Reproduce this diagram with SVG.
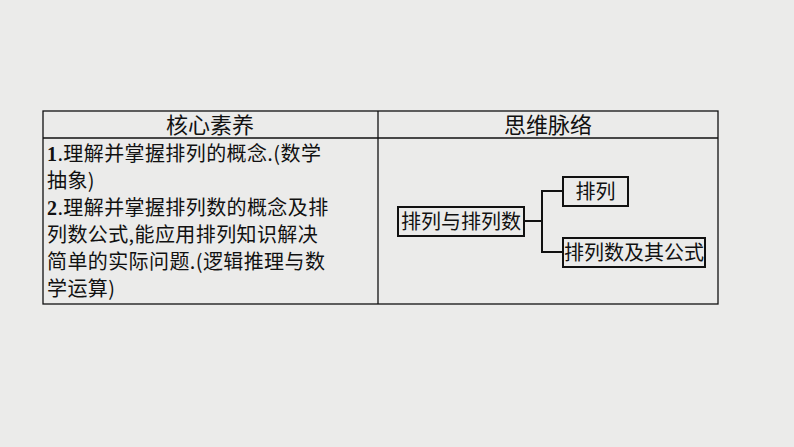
<svg xmlns="http://www.w3.org/2000/svg" width="794" height="447" viewBox="0 0 794 447">
<style>
text{font-family:"Noto Sans CJK SC","Liberation Serif",serif;fill:#111}
.t{font-size:20px;letter-spacing:0.4px}
.h{font-size:22px;text-anchor:middle}
.n{font-size:20px;text-anchor:middle}
.b{fill:none;stroke:#111;stroke-width:2}
.l{fill:none;stroke:#111;stroke-width:1.3}
</style>
<rect width="794" height="447" fill="#ebebea"/>
<g id="table">
<rect x="43" y="111" width="675" height="193" class="l"/>
<line x1="43" y1="138" x2="718" y2="138" class="l"/>
<line x1="378" y1="111" x2="378" y2="304" class="l"/>
<text class="h" x="210" y="133">核心素养</text>
<text class="h" x="548" y="133">思维脉络</text>
<g class="t">
<text x="47" y="161"><tspan font-weight="bold" font-family="Liberation Serif">1</tspan>.理解并掌握排列的概念.(数学</text>
<text x="47" y="188">抽象)</text>
<text x="47" y="215"><tspan font-weight="bold" font-family="Liberation Serif">2</tspan>.理解并掌握排列数的概念及排</text>
<text x="47" y="242">列数公式,能应用排列知识解决</text>
<text x="47" y="269">简单的实际问题.(逻辑推理与数</text>
<text x="47" y="296">学运算)</text>
</g>
</g>
<g id="connectors">
<polyline points="524,221 542,221" class="b"/>
<polyline points="563,191 542,191 542,252 563,252" class="b"/>
</g>
<g id="n1"><rect x="398" y="207" width="126" height="29" class="b"/><text class="n" x="461" y="228.5">排列与排列数</text></g>
<g id="n2"><rect x="563" y="177" width="65" height="29" class="b"/><text class="n" x="595.5" y="198.5">排列</text></g>
<g id="n3"><rect x="563" y="238" width="142" height="29" class="b"/><text class="n" x="634" y="259.5">排列数及其公式</text></g>
</svg>
